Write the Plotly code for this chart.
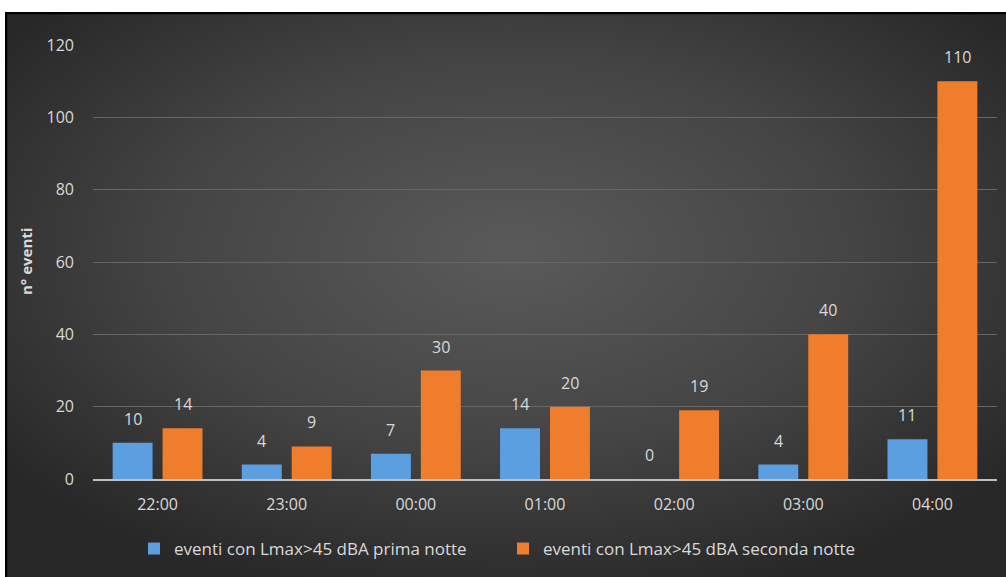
import base64
import plotly.graph_objects as go

categories = ["22:00", "23:00", "00:00", "01:00", "02:00", "03:00", "04:00"]
prima_notte = [10, 4, 7, 14, 0, 4, 11]
seconda_notte = [14, 9, 30, 20, 19, 40, 110]
series_names = ["eventi con Lmax>45 dBA prima notte", "eventi con Lmax>45 dBA seconda notte"]
y_ticks = [0, 20, 40, 60, 80, 100, 120]

W, H = 1006, 577
L, R, T, B = 93, 9, 45, 98
pw, ph = W - L - R, H - T - B

def px_x(x):
    return (x - L) / pw

def px_y(y):
    return (H - B - y) / ph

FONT = "Open Sans, Noto Sans, sans-serif"
TXT = "#d9d9d9"
FS = 16

svg = (
    '<svg xmlns="http://www.w3.org/2000/svg" width="1010" height="570" viewBox="0 0 1010 570" preserveAspectRatio="none">'
    '<defs><radialGradient id="g" cx="50%" cy="42%" r="62%" fx="50%" fy="42%">'
    '<stop offset="0" stop-color="#5a5a5a"/><stop offset="0.55" stop-color="#444444"/>'
    '<stop offset="1" stop-color="#282828"/></radialGradient></defs>'
    '<rect x="1" y="1" width="1012" height="572" fill="url(#g)" stroke="#000" stroke-width="2.5"/>'
    '</svg>'
)
src = "data:image/svg+xml;base64," + base64.b64encode(svg.encode()).decode()

fig = go.Figure()
fig.add_trace(go.Bar(
    x=categories, y=prima_notte, name=series_names[0],
    marker=dict(color="#5b9fe0", line=dict(width=0)),
))
fig.add_trace(go.Bar(
    x=categories, y=seconda_notte, name=series_names[1],
    marker=dict(color="#ef7d2c", line=dict(width=0)),
))

annotations = []
for series, shift in ((prima_notte, -25), (seconda_notte, 25)):
    for cat, val in zip(categories, series):
        annotations.append(dict(
            x=cat, y=val, xref="x", yref="y", text=str(val), showarrow=False,
            xshift=shift, yshift=11, yanchor="bottom", xanchor="center",
            font=dict(size=FS, color=TXT, family=FONT),
        ))
annotations.append(dict(text="<b>n° eventi</b>", xref="paper", yref="paper",
                        x=px_x(26), y=px_y(262), textangle=-90, showarrow=False,
                        font=dict(size=15, color=TXT, family=FONT),
                        xanchor="center", yanchor="middle"))

fig.update_layout(
    width=W, height=H,
    margin=dict(l=L, r=R, t=T, b=B, pad=0),
    paper_bgcolor="white",
    plot_bgcolor="rgba(0,0,0,0)",
    barmode="group", bargap=0.227, bargroupgap=0.2,
    font=dict(family=FONT, color=TXT, size=FS),
    showlegend=True,
    legend=dict(orientation="h", x=px_x(134), xanchor="left", y=px_y(549), yanchor="middle",
                font=dict(size=17, color=TXT, family=FONT), itemwidth=30,
                entrywidth=324, entrywidthmode="pixels",
                bgcolor="rgba(0,0,0,0)", tracegroupgap=0, traceorder="normal"),
    images=[dict(source=src, xref="paper", yref="paper",
                 x=px_x(5), y=px_y(12), sizex=px_x(1015) - px_x(5), sizey=px_y(12) - px_y(582),
                 xanchor="left", yanchor="top", sizing="stretch", layer="below")],
    annotations=annotations,
)
fig.update_xaxes(
    showgrid=False, showline=True, linecolor="#bfbfbf", linewidth=1.5,
    ticks="", tickfont=dict(size=FS, color=TXT, family=FONT), ticklabelstandoff=10,
)
fig.update_yaxes(
    range=[0, 120], tickvals=y_ticks, showgrid=True, gridcolor="#666666", gridwidth=1,
    zeroline=False, showline=False, ticks="",
    tickfont=dict(size=FS, color=TXT, family=FONT), ticklabelstandoff=18,
)
fig.write_html("out.html")
